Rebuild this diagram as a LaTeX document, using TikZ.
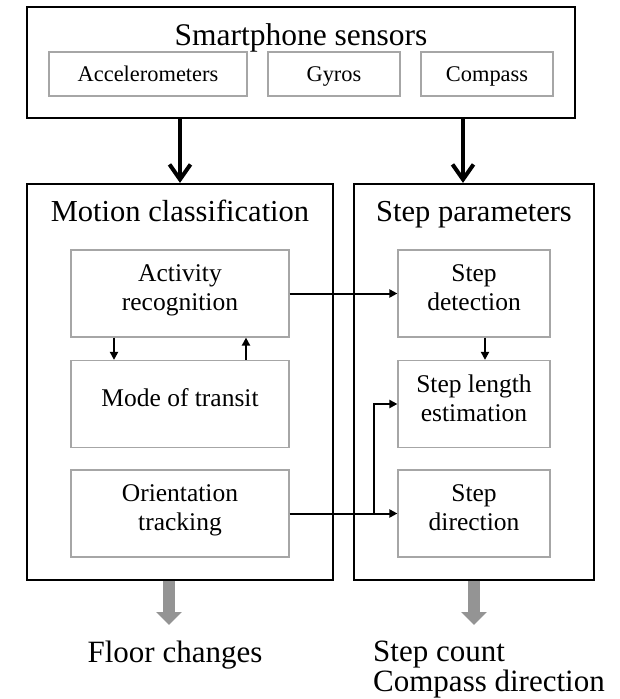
\documentclass[tikz,border=0pt]{standalone}
\usepackage{fontspec}
\setmainfont{Liberation Serif}
\usepackage{tikz}
\usetikzlibrary{positioning}
\usetikzlibrary{arrows.meta}

\begin{document}
\begin{tikzpicture}[
                x=1pt, y=-1pt,
                % Define styles for nodes
                group box/.style={rectangle, draw=black, line width=2.2pt, inner sep=0pt},
                sensor box/.style={rectangle, draw=black!35, line width=1.2pt, minimum height=44pt, inner sep=0pt, text height=15.5pt, text depth=0pt, font=\fontsize{22.4}{26}\selectfont},
                part box/.style={rectangle, draw=black!35, line width=1.2pt, minimum height=87pt, inner sep=0pt, text depth=12pt, align=center, font=\fontsize{25.5}{28.5}\selectfont},
                group title/.style={anchor=base, inner sep=0pt, font=\fontsize{30.5}{34}\selectfont},
                result text/.style={inner sep=0pt, align=left, font=\fontsize{31}{30}\selectfont},
                % Define styles for connectors
                big arrow/.style={line width=4pt, -{Straight Barb[length=15pt,width=21pt]}},
                small arrow/.style={line width=2pt, -{Triangle[length=8pt,width=8pt]}},
                out arrow/.style={draw=black!42, line width=12pt, -{Triangle[length=13pt,width=25pt]}}
            ]
                \useasboundingbox (0,0) rectangle (620,699);

                % Sensors
                \node[group box, line width=2.7pt, minimum width=548pt, minimum height=111pt] (sensors) at (301,62.5) {};
                \node[group title, font=\fontsize{31.5}{34}\selectfont] (sensors title) at (301,45) {Smartphone sensors};
                \node[sensor box, minimum width=198pt] (accel) at (148,74) {Accelerometers};
                \node[sensor box, minimum width=132pt] (gyros) at (334,74) {Gyros};
                \node[sensor box, minimum width=132pt] (compass) at (487,74) {Compass};

                % Motion classification
                \node[group box, minimum width=306pt, minimum height=396pt] (motion) at (180,382) {};
                \node[group title] (motion title) at (180,221) {Motion classification};
                \node[part box, minimum width=218pt] (activity) at (180,293.5) {Activity\\recognition};
                \node[part box, minimum width=218pt] (mode) at (180,404) {Mode of transit};
                \node[part box, minimum width=218pt] (orient) at (180,513.5) {Orientation\\tracking};

                % Step parameters
                \node[group box, minimum width=240pt, minimum height=396pt] (steppar) at (474,382) {};
                \node[group title] (steppar title) at (474,221) {Step parameters};
                \node[part box, minimum width=152pt] (stepdet) at (474,293.5) {Step\\detection};
                \node[part box, minimum width=152pt] (steplen) at (474,404) {Step length\\estimation};
                \node[part box, minimum width=152pt] (stepdir) at (474,513.5) {Step\\direction};

                % Outputs
                \node[result text, anchor=base] (floor) at (175,662) {Floor changes};
                \node[result text, anchor=base west] (count) at (373,691) {Step count\\Compass direction};
                \coordinate (floor tip) at (169,625);
                \coordinate (count tip) at (474,625);

                % Draw connections
                \draw[big arrow] (sensors.south -| motion.north) -- (motion.north);
                \draw[big arrow] ([xshift=-11pt]sensors.south -| steppar.north) -- ([xshift=-11pt]steppar.north);

                \draw[small arrow] ([xshift=-66pt]activity.south) -- ([xshift=-66pt]mode.north);
                \draw[small arrow] ([xshift=66pt]mode.north) -- ([xshift=66pt]activity.south);
                \draw[small arrow] (activity.east) -- (stepdet.west);
                \draw[small arrow] ([xshift=11pt]stepdet.south) -- ([xshift=11pt]steplen.north);
                \draw[small arrow] (orient.east) -- (stepdir.west);
                \draw[small arrow] ([xshift=-23pt]stepdir.west) |- (steplen.west);

                \draw[out arrow] (motion.south -| floor tip) -- (floor tip);
                \draw[out arrow] (steppar.south) -- (count tip);
            \end{tikzpicture}
\end{document}
